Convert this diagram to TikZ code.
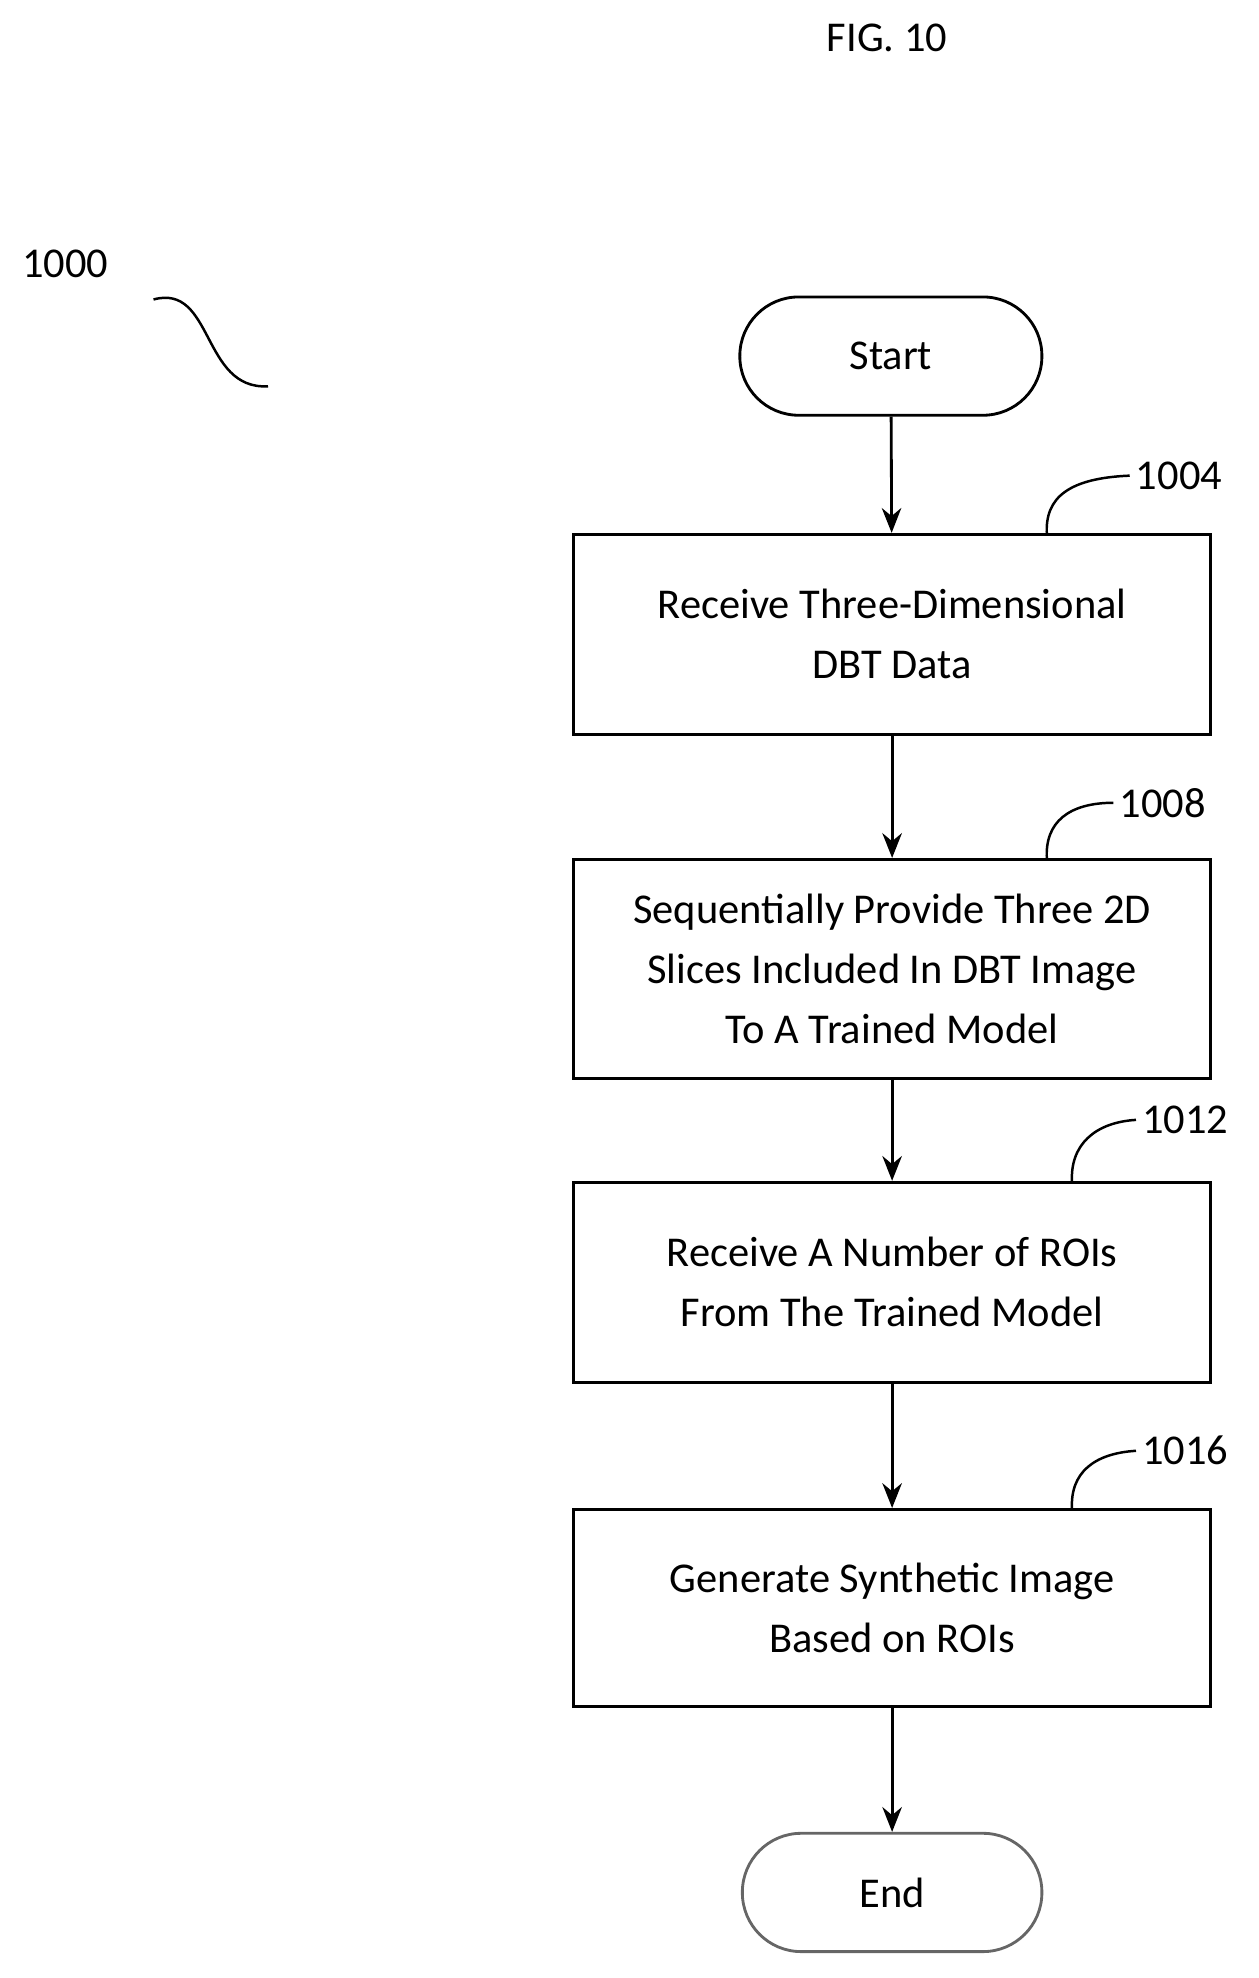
\documentclass[tikz,border=0pt]{standalone}
\usepackage{fontspec}
\setmainfont{Carlito}
\usetikzlibrary{arrows.meta}
\begin{document}
\begin{tikzpicture}[x=0.025cm,y=-0.025cm,
  box/.style={draw,line width=1.6pt,minimum width=12.65cm,align=center,font=\fontsize{24}{34}\selectfont},
  term/.style={draw,line width=1.6pt,rounded corners=1.17cm,minimum width=6cm,minimum height=2.35cm,font=\fontsize{24}{30}\selectfont},
  lbl/.style={font=\fontsize{24}{30}\selectfont},
  arr/.style={-{Stealth[length=14pt,width=11pt]},line width=1.6pt},
  lead/.style={line width=1.4pt}]
\useasboundingbox (0,0) rectangle (1000,1572);
\node[lbl] (fig) at (705,30) {FIG. 10};
\node[lbl] (n1000) at (52,210) {1000};
\coordinate (s1) at (122,238); \coordinate (s2) at (213,307);
\draw[lead] (s1) .. controls (170,225) and (160,310) .. (s2);
\node[term] (start) at (708,283) {Start};
\node[box,minimum height=3.97cm] (b1) at (709,504) {Receive Three-Dimensional\\DBT Data};
\node[box,minimum height=4.35cm] (b2) at (709,770) {Sequentially Provide Three 2D\\Slices Included In DBT Image\\To A Trained Model};
\node[box,minimum height=3.97cm] (b3) at (709,1019) {Receive A Number of ROIs\\From The Trained Model};
\node[box,minimum height=3.92cm] (b4) at (709,1278) {Generate Synthetic Image\\Based on ROIs};
\node[term,draw=black!60,minimum width=5.95cm] (end) at (709,1504) {End};
\draw[arr] (start) -- (b1);
\draw[arr] (b1) -- (b2);
\draw[arr] (b2) -- (b3);
\draw[arr] (b3) -- (b4);
\draw[arr] (b4) -- (end);
\node[lbl] (l1) at (937,378) {1004};
\node[lbl] (l2) at (924,638) {1008};
\node[lbl] (l3) at (942,890) {1012};
\node[lbl] (l4) at (942,1153) {1016};
\coordinate (c1) at (832,425); \coordinate (c2) at (832,683); \coordinate (c3) at (852,940); \coordinate (c4) at (852,1200);
\draw[lead] (c1) .. controls (830,395) and (850,380) .. (l1.west);
\draw[lead] (c2) .. controls (830,653) and (850,638) .. (l2.west);
\draw[lead] (c3) .. controls (850,910) and (870,892) .. (l3.west);
\draw[lead] (c4) .. controls (850,1170) and (870,1155) .. (l4.west);
\end{tikzpicture}
\end{document}
